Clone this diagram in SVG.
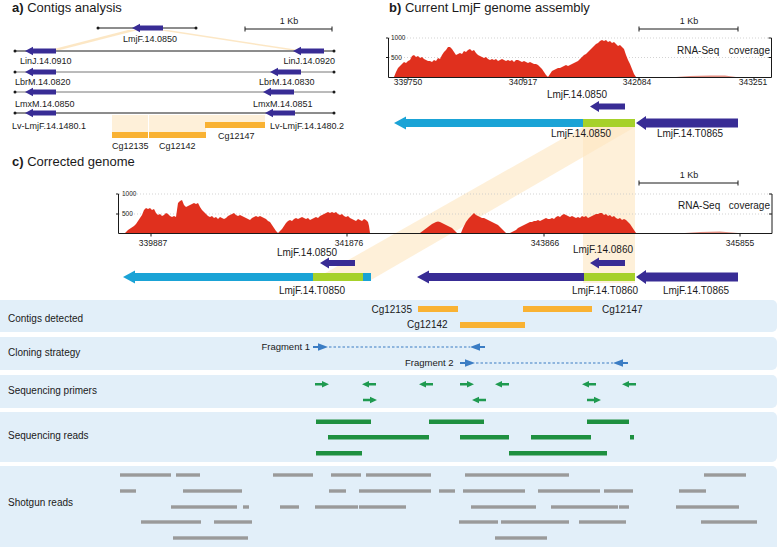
<svg xmlns="http://www.w3.org/2000/svg" width="779" height="547" viewBox="0 0 779 547">
<style>
.t{font-family:"Liberation Sans",Arial,sans-serif;fill:#1a1a1a}
.ttl{font-size:13px}
.ga{font-size:9px}
.gb{font-size:10px}
.ax{font-size:8.5px}
.tk{font-size:6.5px}
.rl{font-size:10px}
.db{fill:#382c95}
.cy{fill:#1aa3d6}
.lg{fill:#a6d12a}
.cov{fill:#e0301e}
.band{fill:#fde6c0;opacity:0.6}
.fan{fill:#fce3bb;opacity:0.85}
.or{fill:#f9b233}
.ln{stroke:#1a1a1a;stroke-width:1;fill:none}
.lgr{stroke:#777;stroke-width:1;fill:none}
.grid{stroke:#c8c8c8;stroke-width:0.8;stroke-dasharray:1 2;fill:none}
.rowbg{fill:#e2eff9}
.pr{fill:#1f9a50}
.sr{fill:#1e9040}
.sg{fill:#9a9a9a}
.fr{fill:#3b7dc4}
.dash{stroke:#3b7dc4;stroke-width:1.2;stroke-dasharray:2.5 2;fill:none}
</style>
<defs>
<path id="pR" d="M0 -1.2 H7 V-3.3 L14 0 L7 3.3 V1.2 H0 Z"/>
<path id="pL" d="M14 -1.2 H7 V-3.3 L0 0 L7 3.3 V1.2 H14 Z"/>
<path id="fR" d="M0 -1.1 H5 V-3.8 L15 0 L5 3.8 V1.1 H0 Z"/>
<path id="fL" d="M15 -1.1 H10 V-3.8 L0 0 L10 3.8 V1.1 H15 Z"/>
</defs>
<rect width="779" height="547" fill="#fff"/>

<g id="bands">
<polygon class="band" points="583,127 635,127 635,283 583,283"/>
<polygon class="band" points="583,127 635,127 371,280 313,280"/>
<polygon class="fan" points="128,30 138,30 60,50 50,50"/>
<polygon class="fan" points="158,30 168,30 299,50 289,50"/>
<rect class="band" x="112" y="115" width="36" height="17"/>
<rect class="band" x="149" y="115" width="57" height="17"/>
<rect class="band" x="206" y="115" width="59" height="7"/>
</g>

<g id="panel-a">
<text class="t ttl" x="12" y="12"><tspan font-weight="bold">a)</tspan> Contigs analysis</text>
<g id="scale-a">
<path class="ln" d="M245 29 H332 M245 26.5 V31.5 M332 26.5 V31.5"/>
<text class="t ga" x="289" y="24" text-anchor="middle">1 Kb</text>
</g>
<g id="a-top">
<path class="ln" d="M98 28 H196"/>
<circle cx="98" cy="28" r="1.5" fill="#1a1a1a"/><circle cx="196" cy="28" r="1.5" fill="#1a1a1a"/>
<path class="db" d="M132 28 L140 23.7 L140 25.5 L163 25.5 L163 30.5 L140 30.5 L140 32.3 Z"/>
<text class="t ga" x="150" y="42" text-anchor="middle">LmjF.14.0850</text>
</g>
<g id="a-linj">
<path class="ln" d="M15 51 H334"/>
<circle cx="15" cy="51" r="1.5" fill="#1a1a1a"/><circle cx="334" cy="51" r="1.5" fill="#1a1a1a"/>
<path class="db" d="M25 51 L33 46.7 L33 48.5 L56 48.5 L56 53.5 L33 53.5 L33 55.3 Z"/>
<path class="db" d="M293 51 L301 46.7 L301 48.5 L324 48.5 L324 53.5 L301 53.5 L301 55.3 Z"/>
<text class="t ga" x="20" y="64">LinJ.14.0910</text>
<text class="t ga" x="335" y="64" text-anchor="end">LinJ.14.0920</text>
</g>
<g id="a-lbrm">
<path class="lgr" d="M15 72 H334"/>
<circle cx="15" cy="72" r="1.5" fill="#1a1a1a"/><circle cx="334" cy="72" r="1.5" fill="#1a1a1a"/>
<path class="db" d="M25 72 L33 67.7 L33 69.5 L56 69.5 L56 74.5 L33 74.5 L33 76.3 Z"/>
<path class="db" d="M270 72 L278 67.7 L278 69.5 L301 69.5 L301 74.5 L278 74.5 L278 76.3 Z"/>
<text class="t ga" x="15" y="85">LbrM.14.0820</text>
<text class="t ga" x="259" y="85">LbrM.14.0830</text>
</g>
<g id="a-lmxm">
<path class="lgr" d="M15 92 H334"/>
<circle cx="15" cy="92" r="1.5" fill="#1a1a1a"/><circle cx="334" cy="92" r="1.5" fill="#1a1a1a"/>
<path class="db" d="M25 92 L33 87.7 L33 89.5 L56 89.5 L56 94.5 L33 94.5 L33 96.3 Z"/>
<path class="db" d="M263 92 L271 87.7 L271 89.5 L294 89.5 L294 94.5 L271 94.5 L271 96.3 Z"/>
<text class="t ga" x="15" y="106.5">LmxM.14.0850</text>
<text class="t ga" x="253" y="106.5">LmxM.14.0851</text>
</g>
<g id="a-lv">
<path class="ln" d="M15 113 H334"/>
<circle cx="15" cy="113" r="1.5" fill="#1a1a1a"/><circle cx="334" cy="113" r="1.5" fill="#1a1a1a"/>
<path class="db" d="M25 113 L33 108.7 L33 110.5 L56 110.5 L56 115.5 L33 115.5 L33 117.3 Z"/>
<path class="db" d="M265 113 L273 108.7 L273 110.5 L295 110.5 L295 115.5 L273 115.5 L273 117.3 Z"/>
<text class="t ga" x="12" y="129">Lv-LmjF.14.1480.1</text>
<text class="t ga" x="270" y="129">Lv-LmjF.14.1480.2</text>
</g>
<g id="a-contigs">
<rect class="or" x="112" y="132" width="36" height="6"/>
<rect class="or" x="149" y="132" width="57" height="6"/>
<rect class="or" x="205" y="122" width="60" height="6"/>
<text class="t ga" x="112" y="149">Cg12135</text>
<text class="t ga" x="159" y="149">Cg12142</text>
<text class="t ga" x="218" y="139">Cg12147</text>
</g>
</g>

<g id="panel-b">
<text class="t ttl" x="389" y="12"><tspan font-weight="bold">b)</tspan> Current LmjF genome assembly</text>
<g id="scale-b">
<path class="ln" d="M639 29 H738 M639 26.5 V31.5 M738 26.5 V31.5"/>
<text class="t ga" x="689" y="24" text-anchor="middle">1 Kb</text>
</g>
<g id="chart-b">
<path class="grid" d="M389 38 H770 M389 57.5 H770"/>
<path class="cov" d="M394,77 396,72 398,68 400,66 402,64 404,62 406,63 408,61 410,60 412,56 414,55 416,57 418,56 420,58 422,57 424,59 426,60 428,61 430,61 432,62 434,60 436,61 438,58 440,59 442,55 444,52 446,50 448,47 450,47 452,49 454,52 456,55 458,54 460,53 462,54 464,51 466,52 468,50 470,49 472,51 474,50 476,53 478,55 480,56 482,57 484,58 486,57 488,59 490,60 492,59 494,60 496,59 498,61 500,60 502,59 504,60 506,61 508,60 510,61 512,60 514,62 516,60 518,60 520,61 522,62 524,61 526,62 528,63 530,62 532,63 534,64 536,64 538,65 540,67 542,69 544,72 546,75 548,77 550,74 552,71 554,70 556,69 558,68 560,68 562,67 564,66 566,65 568,66 570,65 572,64 574,63 576,62 578,61 580,59 582,57 584,55 586,54 588,52 590,50 592,48 594,46 596,44 598,43 600,41 602,40 604,41 606,40 608,42 610,41 612,43 614,42 616,44 618,46 620,45 622,47 624,49 626,55 628,60 630,64 632,69 634,74 636,77 Z"/>
<path d="M676,77 690,76 710,75.4 725,75.6 736,77 Z" fill="#d9604f" opacity="0.7"/>
<path class="ln" d="M388.5 38 V77.5 H771.5 V38 M388.5 38 H386 M388.5 57.5 H386 M771.5 38 H768.5 M771.5 57.5 H768.5 M408 77.5 V80.5 M523 77.5 V80.5 M639 77.5 V80.5 M754 77.5 V80.5"/>
<text class="t tk" x="391" y="40">1000</text>
<text class="t tk" x="391" y="59.5">500</text>
<text class="t gb" x="677" y="53.5">RNA-Seq</text>
<text class="t gb" x="770" y="53.5" text-anchor="end">coverage</text>
<text class="t ax" x="408" y="85" text-anchor="middle">339750</text>
<text class="t ax" x="523" y="85" text-anchor="middle">340917</text>
<text class="t ax" x="637" y="85" text-anchor="middle">342084</text>
<text class="t ax" x="753" y="85" text-anchor="middle">343251</text>
</g>
<g id="b-genes">
<text class="t gb" x="577" y="98" text-anchor="middle">LmjF.14.0850</text>
<path class="db" d="M590 106.5 L599 101 L599 103.5 L625 103.5 L625 109.5 L599 109.5 L599 112 Z"/>
<path class="cy" d="M394 123 L406 116.5 L406 119 L583 119 L583 127 L406 127 L406 129.5 Z"/>
<rect class="lg" x="583" y="119" width="52" height="8"/>
<path class="db" d="M636 123 L646 116 L646 118.5 L738 118.5 L738 127.5 L646 127.5 L646 130 Z"/>
<text class="t gb" x="581" y="137" text-anchor="middle">LmjF.14.0850</text>
<text class="t gb" x="690" y="137" text-anchor="middle">LmjF.14.T0865</text>
</g>
</g>

<g id="panel-c">
<text class="t ttl" x="12" y="166"><tspan font-weight="bold">c)</tspan> Corrected genome</text>
<g id="scale-c">
<path class="ln" d="M639 183 H738 M639 180.5 V185.5 M738 180.5 V185.5"/>
<text class="t ga" x="689" y="178" text-anchor="middle">1 Kb</text>
</g>
<g id="chart-c">
<path class="grid" d="M119 194 H771 M119 214 H771"/>
<path class="cov" d="M125,233 128,230 131,228 134,226 136,224 138,221 140,218 142,215 144,210 146,208 148,209 150,208 152,210 154,209 156,213 158,215 160,214 162,216 164,215 166,213 168,214 170,216 172,217 174,216 176,217 177,210 178,203 180,201 182,200 184,205 186,207 188,206 190,205 192,204 194,203 196,204 198,203 200,207 202,210 204,212 206,214 208,216 210,217 212,216 214,218 216,217 218,219 220,217 222,218 224,219 226,218 228,216 230,215 232,214 234,213 236,215 238,216 240,215 242,216 244,217 246,218 248,219 250,220 252,218 254,217 256,216 258,217 260,216 262,217 264,218 266,219 268,221 270,222 272,225 274,228 276,231 278,233 280,231 282,229 284,226 286,223 288,221 290,220 292,221 294,219 296,218 298,219 300,218 302,217 304,218 306,219 308,218 310,220 312,219 314,218 316,217 318,218 320,216 322,215 324,214 326,213 328,212 330,213 332,212 334,213 336,212 338,214 340,215 342,214 344,216 346,217 348,216 350,218 352,219 354,220 356,221 358,219 360,220 362,221 364,219 366,220 368,222 369,226 370,233 Z"/>
<path class="cov" d="M420,233 424,230 428,227 432,224 436,222 438,221.5 440,222 444,224 448,226 452,228 455,231 457,233 Z"/>
<path class="cov" d="M461,233 463,228 466,222 469,218 472,215 474,213 476,215 478,216 480,217 482,218 484,218 486,219 488,220 490,221 492,222 494,223 496,224 498,225 500,227 502,229 504,231 506,233 Z"/>
<path class="cov" d="M510,233 512,232 514,231 516,230 518,228 520,227 522,226 524,225 526,224 528,223 530,222 532,222 534,221 536,221 538,220 540,221 542,220 544,219 546,218 548,219 550,219 552,218 554,219 556,217 558,216 560,217 562,215 564,214 566,215 568,216 570,217 572,216 574,217 576,218 578,217 580,218 582,216 584,217 586,216 588,218 590,217 592,216 594,215 596,214 598,214 600,213 602,213 604,215 606,214 608,216 610,215 612,217 614,216 616,218 618,219 620,218 622,220 624,219 626,220 628,222 630,224 632,227 634,230 636,233 Z"/>
<path d="M685,233 700,232 720,231.5 738,233 Z" fill="#d9604f" opacity="0.7"/>
<path class="ln" d="M118.5 194 V233.5 H772 V194 M118.5 194 H116 M118.5 214 H116 M772 194 H769 M772 214 H769 M151 233.5 V236.5 M347 233.5 V236.5 M544 233.5 V236.5 M740 233.5 V236.5"/>
<text class="t tk" x="122" y="196">1000</text>
<text class="t tk" x="122" y="216">500</text>
<text class="t gb" x="678" y="208.5">RNA-Seq</text>
<text class="t gb" x="770" y="208.5" text-anchor="end">coverage</text>
<text class="t ax" x="153" y="246" text-anchor="middle">339887</text>
<text class="t ax" x="349" y="246" text-anchor="middle">341876</text>
<text class="t ax" x="545" y="246" text-anchor="middle">343866</text>
<text class="t ax" x="740" y="246" text-anchor="middle">345855</text>
</g>
<g id="c-genes">
<text class="t gb" x="307" y="256" text-anchor="middle">LmjF.14.0850</text>
<path class="db" d="M320 263 L329 257.5 L329 260 L355 260 L355 266 L329 266 L329 268.5 Z"/>
<text class="t gb" x="603" y="253" text-anchor="middle">LmjF.14.0860</text>
<path class="db" d="M590 263 L599 257.5 L599 260 L625 260 L625 266 L599 266 L599 268.5 Z"/>
<path class="cy" d="M123 277 L135 270.5 L135 273 L371 273 L371 281 L135 281 L135 283.5 Z"/>
<rect class="lg" x="313" y="273" width="50" height="8"/>
<path class="db" d="M417 277 L429 270.5 L429 273 L584 273 L584 281 L429 281 L429 283.5 Z"/>
<rect class="lg" x="584" y="273" width="51" height="8"/>
<path class="db" d="M636 277 L646 270 L646 272.5 L738 272.5 L738 281.5 L646 281.5 L646 284 Z"/>
<text class="t gb" x="312" y="294" text-anchor="middle">LmjF.14.T0850</text>
<text class="t gb" x="605" y="294" text-anchor="middle">LmjF.14.T0860</text>
<text class="t gb" x="696" y="294" text-anchor="middle">LmjF.14.T0865</text>
</g>
</g>

<g id="row-contigs">
<rect class="rowbg" x="-6" y="300" width="783" height="32" rx="5"/>
<text class="t rl" x="8" y="322">Contigs detected</text>
<rect class="or" x="418" y="306" width="40" height="6"/>
<rect class="or" x="523" y="306" width="69" height="6"/>
<rect class="or" x="460" y="322" width="65" height="6"/>
<text class="t rl" x="412" y="312.5" text-anchor="end">Cg12135</text>
<text class="t rl" x="602" y="312.5">Cg12147</text>
<text class="t rl" x="407" y="328">Cg12142</text>
</g>

<g id="row-cloning">
<rect class="rowbg" x="-6" y="337" width="783" height="33" rx="5"/>
<text class="t rl" x="8" y="356">Cloning strategy</text>
<text class="t" font-size="9.5" x="310" y="350" text-anchor="end">Fragment 1</text>
<use href="#fR" x="313" y="347" class="fr"/>
<path class="dash" d="M329 347 H470"/>
<use href="#fL" x="470" y="347" class="fr"/>
<text class="t" font-size="9.5" x="405" y="366">Fragment 2</text>
<use href="#fR" x="460" y="363" class="fr"/>
<path class="dash" d="M476 363 H613"/>
<use href="#fL" x="613" y="363" class="fr"/>
</g>

<g id="row-primers">
<rect class="rowbg" x="-6" y="375" width="783" height="33" rx="5"/>
<text class="t rl" x="8" y="393.5">Sequencing primers</text>
<use href="#pR" x="315" y="384.3" class="pr"/>
<use href="#pL" x="362" y="384.3" class="pr"/>
<use href="#pL" x="419" y="384.3" class="pr"/>
<use href="#pR" x="460" y="384.3" class="pr"/>
<use href="#pL" x="495" y="384.3" class="pr"/>
<use href="#pL" x="582" y="384.3" class="pr"/>
<use href="#pL" x="622" y="384.3" class="pr"/>
<use href="#pR" x="363" y="400" class="pr"/>
<use href="#pL" x="472" y="400" class="pr"/>
<use href="#pR" x="587" y="400" class="pr"/>
</g>

<g id="row-seqreads">
<rect class="rowbg" x="-6" y="412" width="783" height="50" rx="5"/>
<text class="t rl" x="8" y="438.5">Sequencing reads</text>
<rect class="sr" x="316" y="419.5" width="55" height="4.5"/>
<rect class="sr" x="429" y="419.5" width="55" height="4.5"/>
<rect class="sr" x="587" y="419.5" width="42" height="4.5"/>
<rect class="sr" x="328" y="435" width="101" height="4.5"/>
<rect class="sr" x="460" y="435" width="49" height="4.5"/>
<rect class="sr" x="531" y="435" width="60" height="4.5"/>
<rect class="sr" x="630" y="435" width="4" height="4.5"/>
<rect class="sr" x="316" y="451" width="46" height="4.5"/>
<rect class="sr" x="509" y="451" width="98" height="4.5"/>
</g>

<g id="row-shotgun">
<rect class="rowbg" x="-6" y="466" width="783" height="90" rx="5"/>
<text class="t rl" x="8" y="506">Shotgun reads</text>
<g class="sg">
<rect x="120" y="473.3" width="51" height="3.4"/><rect x="176" y="473.3" width="24" height="3.4"/><rect x="273" y="473.3" width="40" height="3.4"/><rect x="331" y="473.3" width="30" height="3.4"/><rect x="366" y="473.3" width="65" height="3.4"/><rect x="465" y="473.3" width="104" height="3.4"/><rect x="704" y="473.3" width="42" height="3.4"/>
<rect x="120" y="489.3" width="16" height="3.4"/><rect x="183" y="489.3" width="59" height="3.4"/><rect x="329" y="489.3" width="17" height="3.4"/><rect x="359" y="489.3" width="72" height="3.4"/><rect x="439" y="489.3" width="16" height="3.4"/><rect x="463" y="489.3" width="62" height="3.4"/><rect x="538" y="489.3" width="62" height="3.4"/><rect x="604" y="489.3" width="29" height="3.4"/><rect x="679" y="489.3" width="27" height="3.4"/>
<rect x="171" y="505.3" width="66" height="3.4"/><rect x="243" y="505.3" width="6" height="3.4"/><rect x="280" y="505.3" width="19" height="3.4"/><rect x="315" y="505.3" width="43" height="3.4"/><rect x="359" y="505.3" width="47" height="3.4"/><rect x="471" y="505.3" width="65" height="3.4"/><rect x="551" y="505.3" width="67" height="3.4"/><rect x="619" y="505.3" width="10" height="3.4"/><rect x="676" y="505.3" width="63" height="3.4"/>
<rect x="141" y="520.3" width="60" height="3.4"/><rect x="214" y="520.3" width="38" height="3.4"/><rect x="459" y="520.3" width="39" height="3.4"/><rect x="501" y="520.3" width="68" height="3.4"/><rect x="579" y="520.3" width="47" height="3.4"/><rect x="701" y="520.3" width="56" height="3.4"/>
<rect x="173" y="536.3" width="75" height="3.4"/><rect x="495" y="536.3" width="52" height="3.4"/>
</g>
</g>
</svg>
